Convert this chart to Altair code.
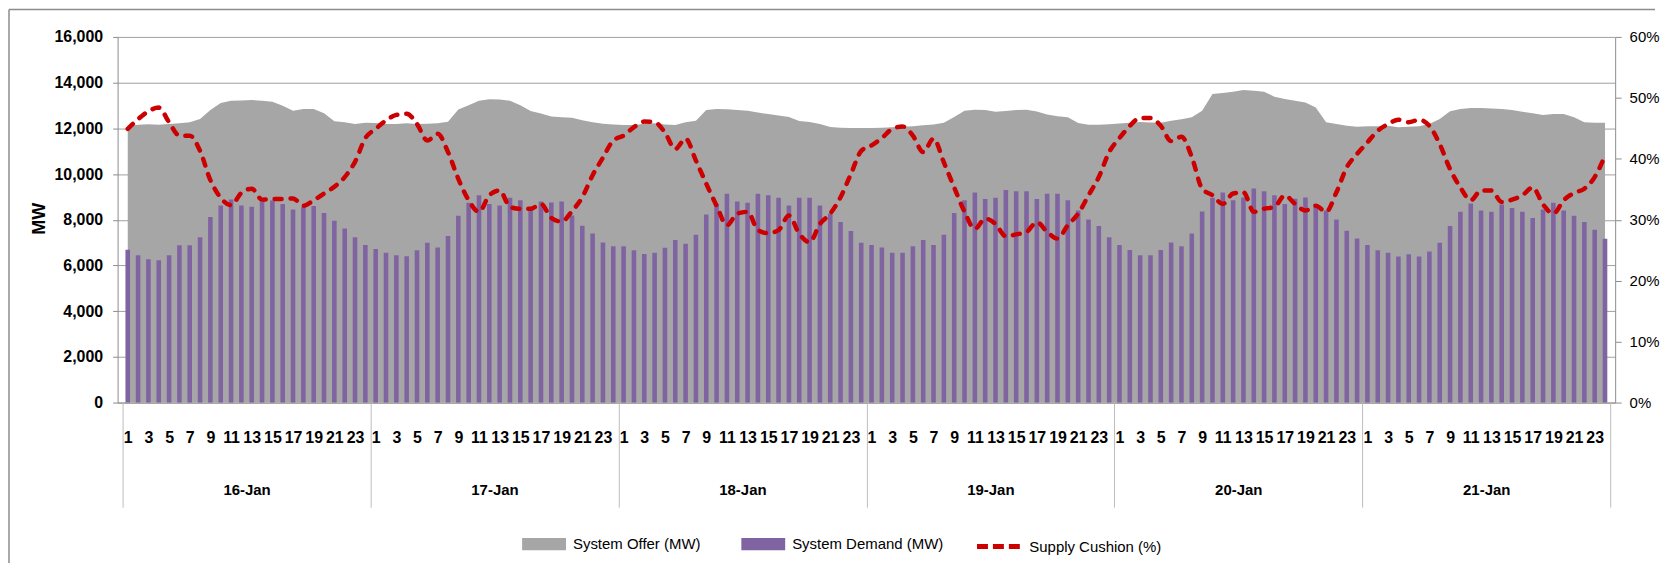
import altair as alt
import pandas as pd

FONT = "Liberation Sans, Arial, sans-serif"

days = ["16-Jan", "17-Jan", "18-Jan", "19-Jan", "20-Jan", "21-Jan"]
hours = list(range(1, 25))

series_names = ["System Offer (MW)", "System Demand (MW)", "Supply Cushion (%)"]
series_colors = ["#A6A6A6", "#8064A2", "#CC0000"]

offer_16 = [12100, 12160, 12174, 12160, 12189, 12218, 12262, 12407, 12800, 13105, 13207, 13222,
            13236, 13207, 13163, 12989, 12771, 12843, 12843, 12654, 12305, 12262, 12189, 12247]
offer_17 = [12232, 12189, 12189, 12218, 12189, 12203, 12218, 12290, 12820, 13010, 13207, 13270,
            13258, 13207, 13010, 12755, 12645, 12515, 12487, 12465, 12350, 12262, 12200, 12167]
offer_18 = [12150, 12140, 12200, 12220, 12170, 12150, 12262, 12334, 12800, 12843, 12829, 12800,
            12765, 12690, 12625, 12565, 12495, 12320, 12280, 12189, 12060, 12020, 12015, 12014]
offer_19 = [12014, 12030, 12043, 12065, 12090, 12130, 12165, 12240, 12500, 12771, 12814, 12800,
            12720, 12757, 12807, 12815, 12735, 12600, 12530, 12480, 12230, 12160, 12160, 12180]
offer_20 = [12210, 12247, 12276, 12255, 12247, 12334, 12392, 12480, 12771, 13498, 13541, 13600,
            13672, 13643, 13600, 13381, 13280, 13207, 13134, 12916, 12262, 12189, 12116, 12072]
offer_21 = [12087, 12087, 12116, 12043, 12072, 12087, 12189, 12407, 12742, 12843, 12887, 12887,
            12872, 12843, 12800, 12727, 12654, 12582, 12625, 12625, 12480, 12262, 12247, 12247]

demand_16 = [6690, 6444, 6270, 6226, 6444, 6880, 6880, 7230, 8116, 8626, 8888, 8626,
             8568, 8844, 8844, 8684, 8451, 8568, 8597, 8291, 7957, 7622, 7230, 6895]
demand_17 = [6720, 6560, 6444, 6400, 6662, 6998, 6780, 7287, 8175, 8742, 9076, 8684,
             8626, 8962, 8850, 8450, 8800, 8750, 8800, 8180, 7740, 7400, 7000, 6840]
demand_18 = [6836, 6662, 6502, 6560, 6778, 7113, 6953, 7345, 8232, 8698, 9134, 8800,
             8742, 9134, 9076, 8960, 8625, 8960, 8960, 8625, 8262, 7898, 7505, 6996]
demand_19 = [6890, 6780, 6560, 6560, 6836, 7113, 6890, 7340, 8290, 8850, 9190, 8910,
             8960, 9300, 9245, 9245, 8910, 9135, 9135, 8850, 8408, 8015, 7730, 7230]
demand_20 = [6900, 6676, 6444, 6444, 6676, 7005, 6845, 7400, 8357, 8960, 9192, 8858,
             8974, 9367, 9251, 9076, 8684, 8916, 8974, 8684, 8407, 8014, 7520, 7180]
demand_21 = [6890, 6662, 6560, 6392, 6495, 6392, 6610, 6997, 7723, 8349, 8713, 8407,
             8349, 8670, 8516, 8349, 8073, 8451, 8742, 8407, 8175, 7898, 7564, 7171]

cushion_16 = [44.9, 46.5, 47.8, 48.4, 46.0, 43.8, 43.8, 41.3, 36.5, 33.6, 32.4, 34.4,
              35.1, 33.3, 33.4, 33.4, 33.5, 32.3, 33.2, 34.3, 35.4, 37.0, 39.5, 43.4]
cushion_17 = [44.9, 46.3, 47.2, 47.4, 45.7, 43.0, 44.1, 41.1, 36.7, 33.2, 31.3, 34.0,
              34.8, 32.1, 31.8, 31.8, 32.6, 30.3, 29.7, 31.4, 33.7, 37.3, 40.2, 43.0]
cushion_18 = [43.8, 45.2, 46.1, 46.0, 44.3, 41.6, 43.3, 39.7, 35.9, 32.3, 29.1, 31.0,
              31.3, 28.3, 27.8, 28.3, 30.7, 27.7, 26.3, 29.3, 31.0, 33.7, 37.5, 41.3]
cushion_19 = [42.2, 43.4, 44.9, 45.3, 43.8, 41.1, 43.3, 39.4, 35.3, 31.3, 28.5, 30.2,
              29.3, 27.3, 27.6, 28.0, 29.6, 28.0, 26.9, 29.1, 31.0, 34.0, 37.0, 41.1]
cushion_20 = [43.4, 45.4, 46.7, 46.7, 45.4, 42.9, 43.6, 40.3, 35.1, 34.0, 32.6, 34.3,
              34.5, 31.3, 31.8, 32.1, 34.0, 32.6, 31.5, 32.3, 31.3, 34.5, 38.6, 40.8]
cushion_21 = [42.7, 44.6, 45.7, 46.4, 46.0, 46.4, 45.4, 42.4, 38.3, 35.3, 33.2, 34.8,
              34.8, 32.9, 33.3, 34.0, 35.3, 32.5, 31.0, 33.2, 34.4, 35.1, 37.0, 40.5]

offer = offer_16 + offer_17 + offer_18 + offer_19 + offer_20 + offer_21
demand = demand_16 + demand_17 + demand_18 + demand_19 + demand_20 + demand_21
cushion = cushion_16 + cushion_17 + cushion_18 + cushion_19 + cushion_20 + cushion_21

n = len(offer)
df = pd.DataFrame({
    "pos": [i + 0.5 for i in range(n)],
    "offer": offer,
    "demand": demand,
    "cushion": cushion,
})

mw_ticks = list(range(0, 16001, 2000))
pct_ticks = list(range(0, 61, 10))
hour_ticks = [d * 24 + h - 0.5 for d in range(len(days)) for h in hours if h % 2 == 1]
day_ticks = [d * 24 + 12 for d in range(len(days))]
sep_ticks = [d * 24 for d in range(len(days) + 1)]

xscale = alt.Scale(domain=[0, n], nice=False, zero=False)
fill_scale = alt.Scale(domain=series_names[:2], range=series_colors[:2])
stroke_scale = alt.Scale(domain=series_names[2:], range=series_colors[2:])

rect_path = "M-1,-0.28H1V0.28H-1Z"
fill_legend = alt.Legend(
    orient="none", legendX=406, legendY=487, direction="horizontal", title=None,
    symbolType=rect_path, symbolSize=1936, symbolStrokeWidth=0, symbolOpacity=1, padding=0,
    labelFont=FONT, labelFontSize=15, labelColor="black", labelOffset=7,
    labelLimit=400, columnPadding=40,
)
stroke_legend = alt.Legend(
    orient="none", legendX=860, legendY=487, direction="horizontal", title=None,
    symbolType="M-1,0H1", symbolSize=1936, symbolStrokeWidth=5, symbolDash=[11, 5],
    symbolOpacity=1, padding=0,
    labelFont=FONT, labelFontSize=15, labelColor="black", labelOffset=6, labelLimit=400,
)

hour_axis = alt.Axis(
    orient="bottom", values=hour_ticks, labelExpr="floor(datum.value) % 24 + 1",
    ticks=False, tickSize=0, domain=True, domainColor="#8C8C8C", grid=False,
    labelFont=FONT, labelFontSize=16, labelFontWeight="bold", labelColor="black",
    labelBaseline="middle", labelPadding=35, labelOverlap=False, labelFlush=False, title=None,
)
day_axis = alt.Axis(
    orient="bottom", values=day_ticks, labelExpr=f"{days}[floor(datum.value / 24)]",
    ticks=False, tickSize=0, domain=False, grid=False,
    labelFont=FONT, labelFontSize=15, labelFontWeight="bold", labelColor="black",
    labelBaseline="middle", labelPadding=87, labelOverlap=False, labelFlush=False, title=None,
)
sep_axis = alt.Axis(
    orient="bottom", values=sep_ticks, labels=False, domain=False, grid=False,
    ticks=True, tickSize=105, tickColor="#BDBDBD", tickWidth=1, title=None,
)

left_axis = alt.Axis(
    orient="left", values=mw_ticks, format=",.0f", title="MW",
    grid=True, gridColor="#A0A0A0", gridWidth=1,
    domainColor="#8C8C8C", tickColor="#8C8C8C", tickSize=5, labelPadding=10,
    labelFont=FONT, labelFontSize=16, labelFontWeight="bold", labelColor="black",
    titleFont=FONT, titleFontSize=18, titleFontWeight="bold", titleColor="black",
    titleX=-78, titleY=182, titleAngle=270, titleAlign="center", titleBaseline="middle",
)
right_axis = alt.Axis(
    orient="right", values=pct_ticks, labelExpr="datum.value + '%'", title=None,
    grid=False, domainColor="#8C8C8C", tickColor="#8C8C8C", tickSize=6, labelPadding=8,
    labelFont=FONT, labelFontSize=15, labelColor="black",
)

base = alt.Chart(df)

area = base.transform_calculate(series=f"'{series_names[0]}'").mark_area(
    opacity=1, interpolate="linear"
).encode(
    x=alt.X("pos:Q", scale=xscale, axis=hour_axis),
    y=alt.Y("offer:Q", scale=alt.Scale(domain=[0, 16000], nice=False), axis=left_axis),
    fill=alt.Fill("series:N", scale=fill_scale, legend=fill_legend),
)

bars = base.transform_calculate(series=f"'{series_names[1]}'").mark_bar(
    size=4.6, opacity=1
).encode(
    x=alt.X("pos:Q", scale=xscale, axis=day_axis),
    y=alt.Y("demand:Q", scale=alt.Scale(domain=[0, 16000], nice=False), axis=None),
    fill=alt.Fill("series:N", scale=fill_scale, legend=fill_legend),
)

line = base.transform_calculate(series=f"'{series_names[2]}'").mark_line(
    strokeWidth=4.5, strokeDash=[7, 9], strokeCap="round", interpolate="monotone"
).encode(
    x=alt.X("pos:Q", scale=xscale, axis=sep_axis),
    y=alt.Y("cushion:Q", scale=alt.Scale(domain=[0, 60], nice=False), axis=right_axis),
    stroke=alt.Stroke("series:N", scale=stroke_scale, legend=stroke_legend),
)

frame = alt.Chart(alt.Data(values=[{"k": 1}]))
border_top = frame.mark_rule(color="#8C8C8C", strokeWidth=1.5).encode(
    x=alt.value(-109), x2=alt.value(1543), y=alt.value(-27.5)
)
border_left = frame.mark_rule(color="#8C8C8C", strokeWidth=1.5).encode(
    x=alt.value(-109), y=alt.value(-27.5), y2=alt.value(700)
)

chart = alt.layer(area, bars, line, border_top, border_left).resolve_scale(
    y="independent"
).resolve_axis(
    x="independent", y="independent"
).properties(
    width=1503, height=367,
    autosize=alt.AutoSizeParams(type="none"),
    padding={"left": 110, "top": 28, "right": 48, "bottom": 160},
    background="white",
).configure_view(strokeWidth=0)

chart.save("out.html", embed_options={"renderer": "svg", "actions": False})
